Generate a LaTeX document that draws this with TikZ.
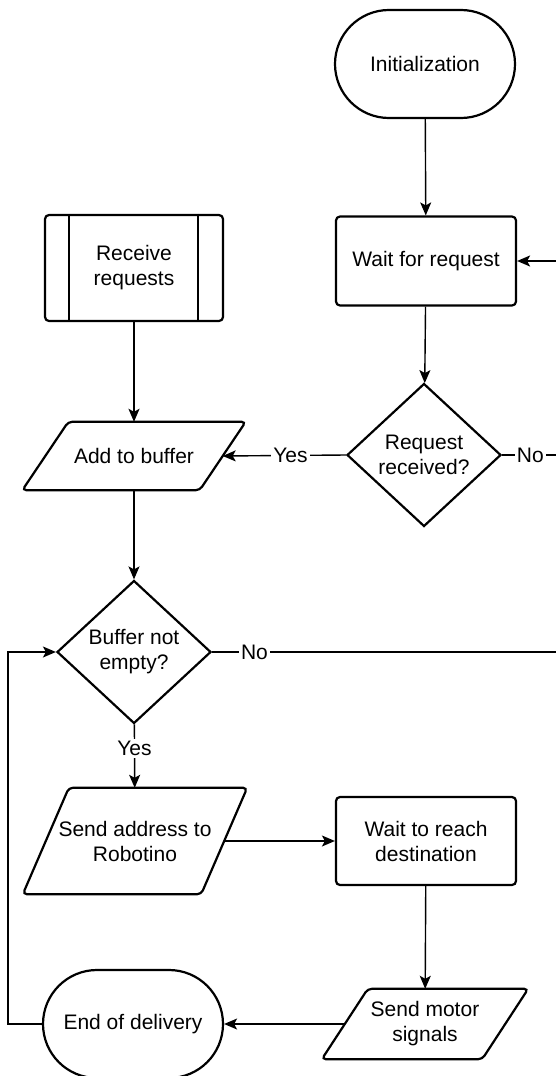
\documentclass[tikz,border=0pt]{standalone}
\usepackage{fontspec}
\setmainfont{Liberation Sans}
\usetikzlibrary{shapes.geometric,shapes.misc,arrows.meta}
\begin{document}
\begin{tikzpicture}[x=1pt,y=-1pt,
  font=\fontsize{21}{25}\selectfont,
  every node/.style={align=center,inner sep=0pt},
  shp/.style={draw,line width=2.2pt},
  term/.style={shp,rounded rectangle,minimum width=180pt,minimum height=108pt},
  proc/.style={shp,rectangle,rounded corners=4pt,minimum width=180pt,minimum height=89pt},
  predef/.style={proc,minimum width=178pt,minimum height=106pt,
    append after command={\pgfextra{\draw[line width=2.2pt]
      ([xshift=25pt]\tikzlastnode.north west) -- ([xshift=25pt]\tikzlastnode.south west)
      ([xshift=-26pt]\tikzlastnode.north east) -- ([xshift=-26pt]\tikzlastnode.south east);}}},
  io/.style={minimum width=223pt,
    append after command={\pgfextra{\draw[line width=2.2pt,rounded corners=4pt]
      ([xshift=46pt]\tikzlastnode.north west) -- (\tikzlastnode.north east)
      -- ([xshift=-46pt]\tikzlastnode.south east) -- (\tikzlastnode.south west) -- cycle;}}},
  dec/.style={shp,diamond,minimum width=154pt,minimum height=143pt},
  flow/.style={line width=1.4pt,-{Stealth[length=13pt,width=11pt,inset=3pt]}},
  lbl/.style={fill=white,inner sep=2pt}]

\useasboundingbox (0,0) rectangle (555,1076);

\node[term] (init) at (425,64) {Initialization};
\node[proc] (wreq) at (426,261) {Wait for request};
\node[dec] (rrcv) at (424,455) {Request\\received?};
\node[predef] (recv) at (134,268) {Receive\\requests};
\node[io,minimum height=68pt] (abuf) at (134,456) {Add to buffer};
\node[dec] (bne) at (134,652) {Buffer not\\empty?};
\node[io,minimum width=224pt,minimum height=106pt] (saddr) at (135,841) {Send address to\\Robotino};
\node[proc,minimum height=88pt] (wdest) at (426,841) {Wait to reach\\destination};
\node[io,minimum width=206pt,minimum height=70pt] (smot) at (425,1024) {Send motor\\signals};
\node[term] (eod) at (133,1024) {End of delivery};

\coordinate (rtop) at (565,455);
\coordinate (rbot) at (565,652);
\coordinate (lft) at (8,1024);

\draw[flow] (init) -- (wreq);
\draw[flow] (wreq) -- (rrcv);
\draw[flow] (rrcv.west) -- node[lbl,pos=0.45] {Yes} ([xshift=-23pt]abuf.east);
\draw[flow] (rrcv.east) -- node[lbl,pos=0.45] {No} (rtop) |- (wreq.east);
\draw[flow] (recv) -- (abuf);
\draw[flow] (abuf) -- (bne);
\draw[line width=1.4pt] (bne.east) -- node[lbl,pos=0.12] {No} (rbot);
\draw[flow] (bne) -- node[lbl,pos=0.38] {Yes} (saddr);
\draw[flow] ([xshift=-23pt]saddr.east) -- (wdest.west);
\draw[flow] (wdest) -- (smot);
\draw[flow] ([xshift=23pt]smot.west) -- (eod.east);
\draw[flow] (eod.west) -- (lft) |- (bne.west);
\end{tikzpicture}
\end{document}
